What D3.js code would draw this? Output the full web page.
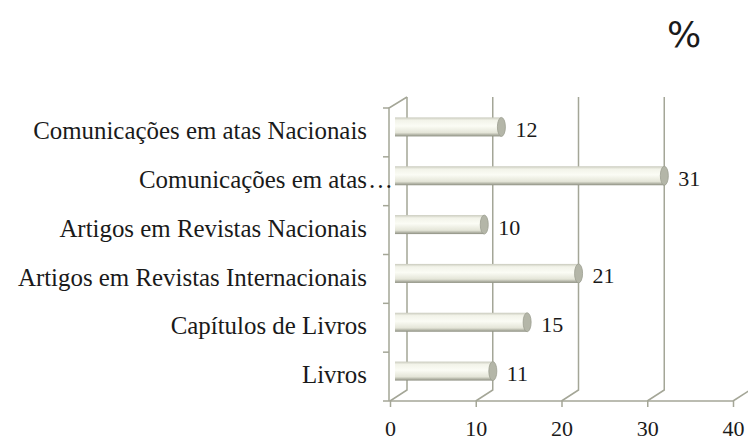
<!DOCTYPE html>
<html>
<head>
<meta charset="utf-8">
<script src="https://cdn.jsdelivr.net/npm/d3@7"></script>
<style>
  body { margin: 0; background: #fff; }
  svg { display: block; }
</style>
</head>
<body>
<svg id="chart" width="748" height="441"></svg>
<script>
// data, top to bottom as in the picture
const categories = [
  "Comunicações em atas Nacionais",
  "Comunicações em atas…",
  "Artigos em Revistas Nacionais",
  "Artigos em Revistas Internacionais",
  "Capítulos de Livros",
  "Livros"
];
const values = [12, 31, 10, 21, 15, 11];
const xTicks = [0, 10, 20, 30, 40];

const svg = d3.select("#chart");
const grid = "#a4a697";
const ink = "#1a1a1a";
const serif = "'Liberation Serif', serif";
const depth = {x: 17, y: -11};   // offset of the back wall

const x = d3.scaleLinear().domain([0, 40]).range([390, 733]);
const y = d3.scaleBand().domain(categories).range([108, 401]);

// gradient for the cylinders
const defs = svg.append("defs");
const grad = defs.append("linearGradient")
  .attr("id", "barGrad").attr("x1", 0).attr("y1", 0).attr("x2", 0).attr("y2", 1);
grad.append("stop").attr("offset", "0%").attr("stop-color", "#c9cabd");
grad.append("stop").attr("offset", "15%").attr("stop-color", "#f2f3e9");
grad.append("stop").attr("offset", "45%").attr("stop-color", "#fbfcf5");
grad.append("stop").attr("offset", "80%").attr("stop-color", "#e4e5d8");
grad.append("stop").attr("offset", "100%").attr("stop-color", "#8d8f81");

// back wall gridlines
const wallTop = y.range()[0] + depth.y, floor = y.range()[1];
svg.append("g").selectAll("path")
  .data(xTicks.slice(0, -1))
  .join("path")
  .attr("d", d => `M${x(d) + depth.x},${wallTop} V${floor + depth.y} L${x(d)},${floor}`)
  .attr("fill", "none").attr("stroke", grid).attr("stroke-width", 1.5);
// last one (40) only the floor diagonal shows
svg.append("path")
  .attr("d", `M${x(40)},${floor} L${x(40) + depth.x},${floor + depth.y}`)
  .attr("fill", "none").attr("stroke", grid).attr("stroke-width", 1.5);

// left wall
svg.append("path")
  .attr("d", `M${x(0) + depth.x},${wallTop} L${x(0) - 1},${y.range()[0]} V${floor}`)
  .attr("fill", "none").attr("stroke", grid).attr("stroke-width", 1.5);

// y ticks
svg.append("g").selectAll("line")
  .data(categories.concat([null]))
  .join("line")
  .attr("x1", x(0) - 7).attr("x2", x(0) - 1)
  .attr("y1", d => d === null ? floor : y(d))
  .attr("y2", d => d === null ? floor : y(d))
  .attr("stroke", grid).attr("stroke-width", 1.5);

// x axis (front floor edge)
const xAxis = d3.axisBottom(x).tickValues(xTicks).tickSize(6).tickFormat(d3.format("d"));
const gx = svg.append("g").attr("transform", `translate(0,${floor})`).call(xAxis);
gx.select(".domain").attr("stroke", grid).attr("stroke-width", 1.5).attr("d", `M${x(0) - 1},0H${x(40)}`);
gx.selectAll(".tick line").attr("stroke", grid).attr("stroke-width", 1.5);
gx.selectAll(".tick text")
  .attr("font-family", serif).attr("font-size", 22)
  .attr("fill", ink).attr("dy", 0).attr("y", 35);

// bars
const barH = 19;
const mid = {x: depth.x / 2, y: depth.y / 2};
const bars = svg.append("g").selectAll("g")
  .data(categories.map((c, i) => ({c, v: values[i]})))
  .join("g");
const cy = d => y(d.c) + y.bandwidth() / 2 + mid.y;
bars.append("rect")
  .attr("x", x(0) + 5)
  .attr("y", d => cy(d) - barH / 2)
  .attr("width", d => x(d.v) + mid.x - x(0) - 5)
  .attr("height", barH)
  .attr("fill", "url(#barGrad)");
bars.append("ellipse")
  .attr("cx", d => x(d.v) + mid.x)
  .attr("cy", cy)
  .attr("rx", 4).attr("ry", barH / 2)
  .attr("fill", "#b4b6a8").attr("stroke", "#9c9e90").attr("stroke-width", 0.8);
bars.append("text")
  .attr("x", d => x(d.v) + mid.x + 14)
  .attr("y", d => cy(d) + 10)
  .attr("font-family", serif).attr("font-size", 22)
  .attr("fill", ink)
  .text(d => d3.format("d")(d.v));

// category labels
const labels = svg.append("g").selectAll("text")
  .data(categories)
  .join("text")
  .attr("x", 367)
  .attr("y", d => y(d) + y.bandwidth() / 2 + 1)
  .attr("dominant-baseline", "middle")
  .attr("text-anchor", "end")
  .attr("font-family", serif)
  .attr("font-size", 20)
  .attr("fill", ink)
  .text(d => d.replace("…", ""));
// fit the longest label to the width seen in the picture
const w = labels.nodes()[0].getComputedTextLength();
const fs = 20 * 334 / w;
labels.attr("font-size", fs);
svg.append("g").selectAll("text")
  .data(categories.filter(d => d.endsWith("…")))
  .join("text")
  .attr("x", 368)
  .attr("y", d => y(d) + y.bandwidth() / 2 + 1)
  .attr("dominant-baseline", "middle")
  .attr("font-family", serif)
  .attr("font-size", fs)
  .attr("fill", ink)
  .text("…");

// unit
svg.append("text")
  .attr("x", 684).attr("y", 47)
  .attr("text-anchor", "middle")
  .attr("font-family", "'DejaVu Sans', sans-serif")
  .attr("font-size", 36)
  .attr("fill", ink)
  .text("%");
</script>
</body>
</html>
